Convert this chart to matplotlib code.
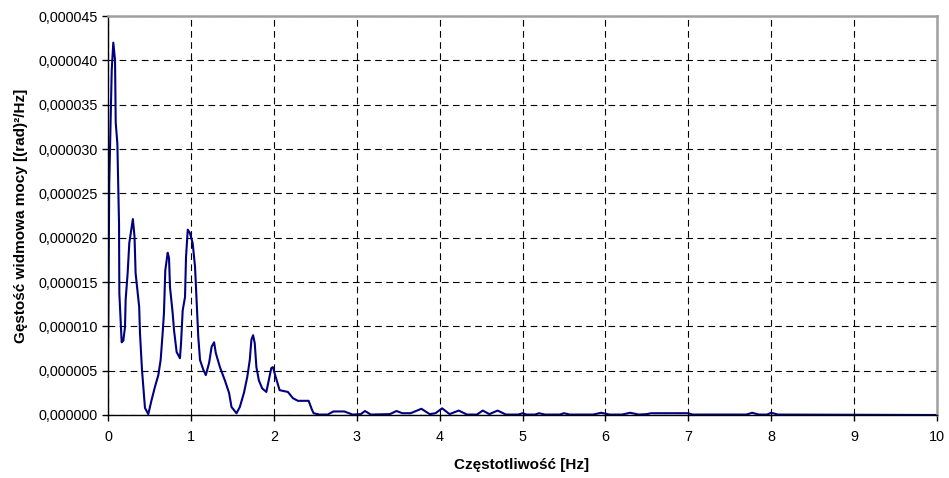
import matplotlib
matplotlib.use("Agg")
import matplotlib.pyplot as plt
from matplotlib.ticker import FuncFormatter, MultipleLocator

plt.rcParams["font.family"] = ["Liberation Sans", "DejaVu Sans"]

# widmo mocy: czestotliwosc [Hz] i gestosc [1e-6 (rad)^2/Hz]
freq = [0.0, 0.015, 0.045, 0.064, 0.085, 0.093, 0.113, 0.133, 0.137, 0.165,
        0.185, 0.205, 0.213, 0.237, 0.257, 0.285, 0.30, 0.32, 0.333, 0.376,
        0.386, 0.410, 0.446, 0.486, 0.526, 0.567, 0.607, 0.635, 0.659, 0.675,
        0.691, 0.72, 0.736, 0.748, 0.780, 0.796, 0.828, 0.868, 0.881, 0.901,
        0.929, 0.941, 0.962, 0.989, 1.021, 1.050, 1.070, 1.089, 1.110, 1.150,
        1.18, 1.22, 1.25, 1.28, 1.30, 1.35, 1.41, 1.46, 1.49, 1.55,
        1.59, 1.64, 1.68, 1.71, 1.73, 1.75, 1.77, 1.79, 1.82, 1.86,
        1.91, 1.97, 1.99, 2.01, 2.07, 2.17, 2.23, 2.29, 2.42, 2.46,
        2.48, 2.55, 2.65, 2.72, 2.85, 2.95, 3.05, 3.10, 3.17, 3.40,
        3.48, 3.55, 3.65, 3.78, 3.88, 3.95, 4.03, 4.12, 4.23, 4.33,
        4.45, 4.52, 4.60, 4.70, 4.80, 4.95, 5.00, 5.05, 5.15, 5.20,
        5.27, 5.45, 5.50, 5.57, 5.85, 5.95, 6.05, 6.20, 6.30, 6.40,
        6.50, 6.55, 7.00, 7.05, 7.70, 7.77, 7.85, 7.95, 8.00, 8.08,
        10.0]
psd = [6.0, 26.0, 38.9, 42.0, 40.0, 33.0, 30.6, 21.6, 13.7, 8.2,
       8.4, 9.9, 13.0, 16.0, 19.4, 21.2, 22.1, 20.1, 16.0, 12.2,
       9.2, 5.1, 0.8, 0.1, 1.7, 3.2, 4.5, 6.2, 9.2, 11.5,
       16.3, 18.3, 17.7, 14.4, 11.5, 9.6, 7.1, 6.4, 8.1, 11.8,
       13.3, 17.8, 20.9, 20.5, 19.4, 16.7, 12.6, 8.8, 6.2, 5.1,
       4.5, 5.9, 7.7, 8.2, 7.0, 5.4, 3.9, 2.5, 0.9, 0.2,
       0.9, 2.5, 4.3, 6.2, 8.5, 9.0, 8.1, 5.4, 3.9, 3.0,
       2.6, 5.3, 5.4, 4.7, 2.8, 2.6, 1.9, 1.6, 1.6, 0.6,
       0.2, 0.05, 0.05, 0.4, 0.4, 0.05, 0.1, 0.45, 0.05, 0.1,
       0.45, 0.2, 0.2, 0.7, 0.1, 0.2, 0.75, 0.1, 0.5, 0.05,
       0.05, 0.5, 0.1, 0.5, 0.05, 0.05, 0.2, 0.05, 0.05, 0.2,
       0.05, 0.05, 0.2, 0.05, 0.05, 0.25, 0.05, 0.05, 0.25, 0.05,
       0.1, 0.2, 0.2, 0.05, 0.05, 0.25, 0.05, 0.05, 0.25, 0.05,
       0.0]
psd = [v * 1e-6 for v in psd]

fig = plt.figure(figsize=(9.49, 4.78), dpi=100)
ax = fig.add_axes([0.1138, 0.1318, 0.8736, 0.8347])

ax.plot(freq, psd, color="#000080", linewidth=1.5)

ax.set_xlim(0, 10)
ax.set_ylim(0, 0.000045)
ax.xaxis.set_major_locator(MultipleLocator(1))
ax.yaxis.set_major_locator(MultipleLocator(0.000005))
ax.yaxis.set_major_formatter(FuncFormatter(lambda v, p: f"{v:.6f}".replace(".", ",")))

ax.grid(True, color="black", linestyle=(0, (6, 4)), linewidth=0.8)
ax.tick_params(direction="out", length=4, width=1, labelsize=10.4, colors="black")
ax.tick_params(axis="x", pad=7)

for side in ("left", "bottom"):
    ax.spines[side].set_color("black")
    ax.spines[side].set_linewidth(1)
for side in ("top", "right"):
    ax.spines[side].set_color("#a0a0a0")
    ax.spines[side].set_linewidth(1.8)

ax.set_xlabel("Częstotliwość [Hz]", fontsize=11, fontweight="bold")
ax.set_ylabel("Gęstość widmowa mocy [(rad)²/Hz]", fontsize=11, fontweight="bold")
ax.xaxis.set_label_coords(0.499, -0.108)
ax.yaxis.set_label_coords(-0.096, 0.5)

fig.savefig("out.png", dpi=100)
